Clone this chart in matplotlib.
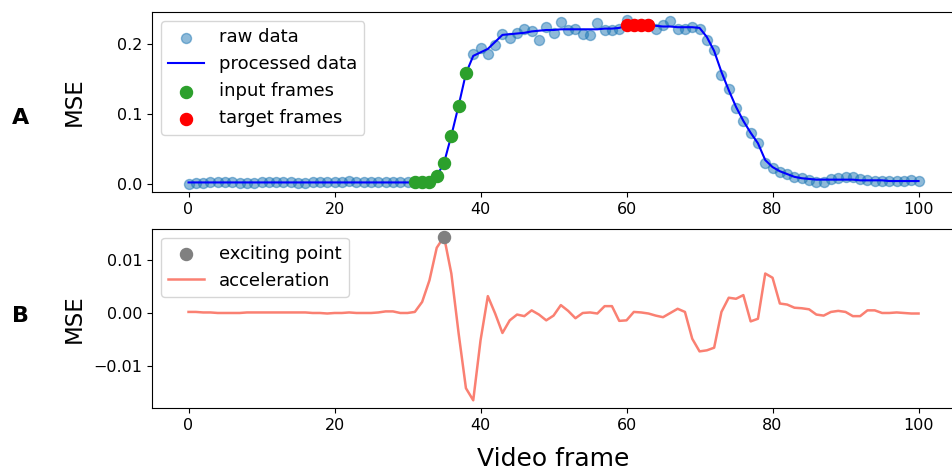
#!/usr/bin/env python3
"""Raw vs processed MSE curve (A) and its acceleration (B) over video frames."""
import numpy as np
import matplotlib
matplotlib.use("Agg")
import matplotlib.pyplot as plt

FRAMES = np.arange(101)

RAW_MSE = [
    0.000, 0.001, 0.001, 0.002, 0.002, 0.002, 0.002, 0.001, 0.001, 0.001,
    0.002, 0.002, 0.002, 0.002, 0.002, 0.001, 0.001, 0.002, 0.002, 0.002,
    0.002, 0.003, 0.004, 0.002, 0.002, 0.002, 0.002, 0.002, 0.002, 0.002,
    0.002,
    0.002, 0.002, 0.002, 0.011, 0.030, 0.069, 0.112, 0.158,
    0.185, 0.194, 0.186, 0.199, 0.214, 0.209, 0.216, 0.222, 0.219, 0.205,
    0.224, 0.216, 0.232, 0.220, 0.222,
    0.214, 0.213, 0.230, 0.220, 0.220, 0.222,
    0.234, 0.228, 0.229, 0.228,
    0.222, 0.227, 0.233, 0.222, 0.222, 0.225, 0.222,
    0.205, 0.191, 0.156, 0.135, 0.108, 0.090, 0.073, 0.059, 0.030,
    0.023, 0.017, 0.014, 0.010, 0.008, 0.006, 0.003, 0.003, 0.007, 0.009,
    0.010, 0.010, 0.007, 0.006, 0.004, 0.004, 0.004, 0.004, 0.004, 0.005,
    0.004,
]

PROCESSED_MSE = [0.002] * 31 + [
    0.002, 0.002, 0.002, 0.011, 0.030, 0.069, 0.112, 0.158,
    0.183, 0.188, 0.193, 0.203, 0.213, 0.214, 0.215, 0.216, 0.218, 0.219,
    0.220, 0.220, 0.221, 0.221, 0.221,
    0.221, 0.221, 0.221, 0.222, 0.222, 0.223,
    0.226, 0.227, 0.227, 0.227,
    0.226, 0.225, 0.225, 0.224, 0.224, 0.224, 0.223,
    0.210, 0.190, 0.160, 0.134, 0.110, 0.090, 0.073, 0.058, 0.034,
    0.024, 0.018, 0.014, 0.010, 0.008, 0.007, 0.006, 0.006, 0.006, 0.006,
    0.006, 0.006, 0.005, 0.005, 0.005, 0.005, 0.004, 0.004, 0.004, 0.004,
    0.004,
]

INPUT_FRAMES = [31, 32, 33, 34, 35, 36, 37, 38]
INPUT_MSE = [0.002, 0.002, 0.002, 0.011, 0.030, 0.069, 0.112, 0.158]
TARGET_FRAMES = [60, 61, 62, 63]
TARGET_MSE = [0.227, 0.227, 0.227, 0.227]

ACCELERATION = [
    0.0002, 0.0002, 0.0001, 0.0001, 0.0000, 0.0000, 0.0000, 0.0000, 0.0001, 0.0001,
    0.0001, 0.0001, 0.0001, 0.0001, 0.0001, 0.0001, 0.0001, 0.0000, 0.0000, -0.0001,
    0.0000, 0.0000, 0.0001, 0.0000, 0.0000, 0.0000, 0.0001,
    0.0003, 0.0003, 0.0000, 0.0000, 0.0002, 0.0021, 0.0062, 0.0124, 0.0145,
    0.0075, -0.0039, -0.0143, -0.0166, -0.0052, 0.0032, -0.0001, -0.0038, -0.0014,
    -0.0003, -0.0006, 0.0005, -0.0003, -0.0014, -0.0005, 0.0015,
    0.0004, -0.0010, 0.0000, 0.0001, -0.0001, 0.0013, 0.0013, -0.0015, -0.0014,
    0.0002, 0.0001, -0.0001, -0.0005, -0.0008, 0.0000, 0.0008, 0.0002, -0.0049,
    -0.0073, -0.0071, -0.0066, 0.0002, 0.0029,
    0.0027, 0.0034, -0.0016, -0.0011, 0.0075, 0.0067, 0.0018, 0.0016, 0.0010,
    0.0009, 0.0007, -0.0003, -0.0005, 0.0002, 0.0004, 0.0002, -0.0006, -0.0006,
    0.0005, 0.0005, 0.0000, 0.0000, 0.0001, 0.0000, -0.0001, -0.0001,
]

EXCITING_FRAME = [35]
EXCITING_VALUE = [0.0145]

TICK_SIZE = 11.5
LEGEND_SIZE = 13


def main():
    fig = plt.figure(figsize=(9.52, 4.74), dpi=100)
    ax_a = fig.add_axes([0.1597, 0.5949, 0.8435, 0.3797])
    ax_b = fig.add_axes([0.1597, 0.1382, 0.8435, 0.3797])

    # panel A
    ax_a.scatter(FRAMES, RAW_MSE, s=52, color="tab:blue", alpha=0.5, label="raw data")
    ax_a.plot(FRAMES, PROCESSED_MSE, color="blue", linewidth=1.5, label="processed data")
    ax_a.scatter(INPUT_FRAMES, INPUT_MSE, s=75, color="tab:green", zorder=3, label="input frames")
    ax_a.scatter(TARGET_FRAMES, TARGET_MSE, s=75, color="red", zorder=3, label="target frames")
    ax_a.set_yticks([0.0, 0.1, 0.2])
    ax_a.legend(loc="upper left", fontsize=LEGEND_SIZE)

    # panel B
    ax_b.scatter(EXCITING_FRAME, EXCITING_VALUE, s=75, color="gray", zorder=3, label="exciting point")
    ax_b.plot(FRAMES, ACCELERATION, color="salmon", linewidth=1.8, label="acceleration")
    ax_b.set_yticks([-0.01, 0.0, 0.01])
    ax_b.set_yticklabels(["\u22120.01", "0.00", "0.01"])
    ax_b.legend(loc="upper left", fontsize=LEGEND_SIZE)
    ax_b.set_xlabel("Video frame", fontsize=18, labelpad=10)

    for ax in (ax_a, ax_b):
        ax.set_xticks([0, 20, 40, 60, 80, 100])
        ax.tick_params(labelsize=TICK_SIZE)
        ax.set_ylabel("MSE", fontsize=16.5, va="center")
        ax.yaxis.set_label_coords(-0.097, 0.5)

    fig.text(20.5 / 952, 1 - 118 / 474, "A", fontsize=16, fontweight="bold", ha="center", va="center")
    fig.text(20.5 / 952, 1 - 316.5 / 474, "B", fontsize=16, fontweight="bold", ha="center", va="center")

    fig.savefig("out.png", dpi=100)
    plt.close(fig)


if __name__ == "__main__":
    main()
